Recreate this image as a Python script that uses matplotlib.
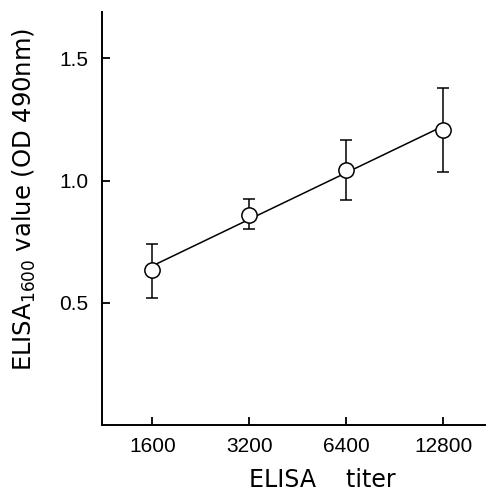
import numpy as np
import matplotlib
matplotlib.use('Agg')
from matplotlib import pyplot as plt
from matplotlib import font_manager

# data
titer = [1600, 3200, 6400, 12800]
tick_labels = ['1600', '3200', '6400', '12800']
od_mean = [0.635, 0.860, 1.045, 1.209]
od_upper = [0.742, 0.926, 1.168, 1.377]
od_lower = [0.520, 0.800, 0.922, 1.037]

x = np.array(titer, dtype=float)
y = np.array(od_mean)
yerr = [y - np.array(od_lower), np.array(od_upper) - y]

# regression line on log2 titer
slope, icpt = np.polyfit(np.log2(x), y, 1)
xf = np.array([x[0], x[-1]])
yf = slope * np.log2(xf) + icpt

names = set(f.name for f in font_manager.fontManager.ttflist)
tick_font = 'Liberation Sans Narrow' if 'Liberation Sans Narrow' in names else 'Liberation Sans'

W, H = 486, 493
fig = plt.figure(figsize=(W / 100, H / 100), dpi=100)
ax = fig.add_axes([102/W, 68/H, 384/W, 413/H])

ax.plot(xf, yf, color='k', lw=1.1, zorder=2)
ax.errorbar(x, y, yerr=yerr, fmt='none', ecolor='k', elinewidth=1.1,
            capsize=4, capthick=1.1, zorder=1)
ax.plot(x, y, 'o', ms=11, mfc='white', mec='k', mew=1.1, zorder=3)

ax.set_xscale('log', base=2)
ax.set_xlim(1600 * 2 ** -0.52, 1600 * 2 ** 3.44)
ax.set_ylim(0, 1.69)
ax.set_xticks(titer)
ax.set_xticklabels(tick_labels)
ax.minorticks_off()
ax.set_yticks([0.5, 1.0, 1.5])
ax.set_yticklabels(['0.5', '1.0', '1.5'])

for s in ['top', 'right']:
    ax.spines[s].set_visible(False)
for s in ['left', 'bottom']:
    ax.spines[s].set_linewidth(1.4)

ax.tick_params(direction='in', length=6, width=1.3)
ax.tick_params(axis='x', pad=9)
ax.tick_params(axis='y', pad=10)
for lab in ax.get_xticklabels() + ax.get_yticklabels():
    lab.set_family([tick_font, 'DejaVu Sans'])
    lab.set_fontsize(15)

fig.text(322/W, 1 - 487/H, 'ELISA    titer', fontsize=17, family='DejaVu Sans',
         ha='center', va='baseline')
fig.text(24/W, 1 - 199/H, r'ELISA$_{\mathregular{1600}}$ value (OD 490nm)',
         fontsize=17.5, family='DejaVu Sans', rotation=90,
         ha='center', va='center')

fig.savefig('out.png', dpi=100)
